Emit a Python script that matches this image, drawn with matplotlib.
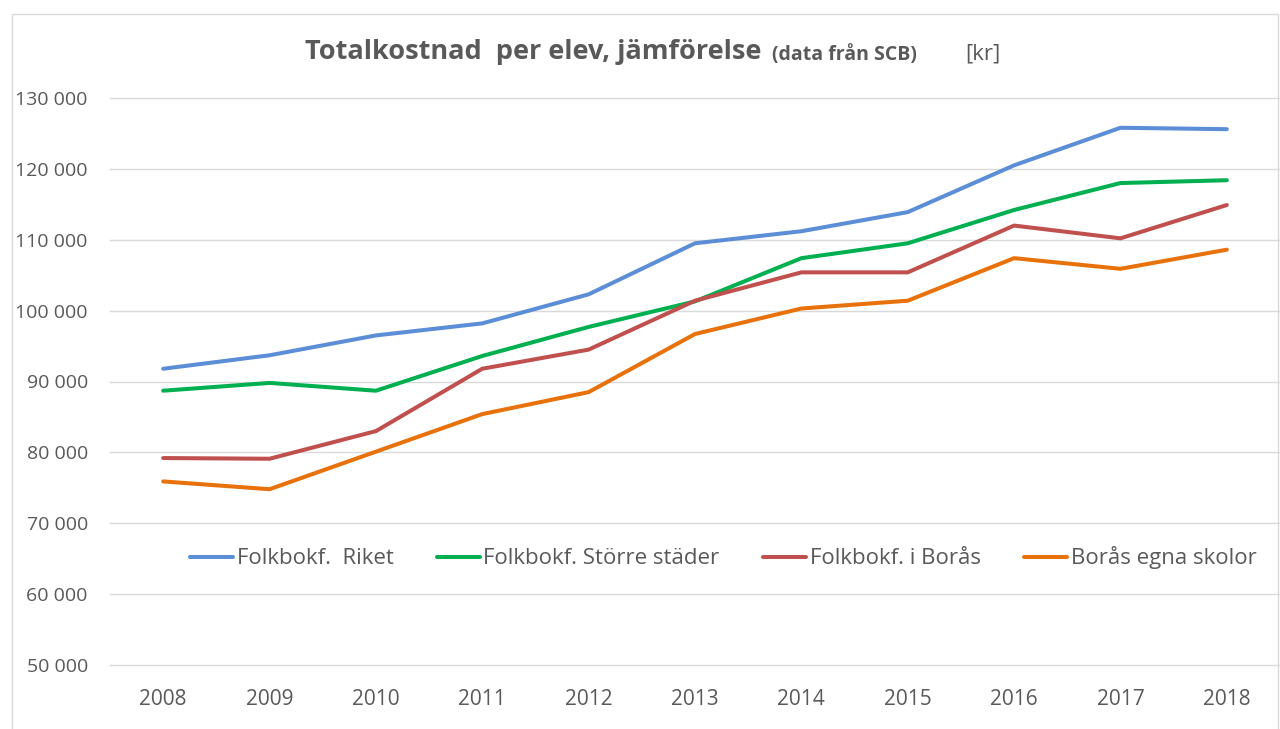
import matplotlib
matplotlib.use('Agg')
import matplotlib.pyplot as plt
from matplotlib.patches import Rectangle
from matplotlib.ticker import FuncFormatter

years = ['2008', '2009', '2010', '2011', '2012', '2013', '2014', '2015', '2016', '2017', '2018']

riket = [91800, 93700, 96500, 98200, 102300, 109500, 111200, 113900, 120500, 125800, 125600]
storre_stader = [88700, 89800, 88700, 93600, 97700, 101300, 107400, 109500, 114200, 118000, 118400]
i_boras = [79200, 79100, 83000, 91800, 94500, 101400, 105400, 105400, 112000, 110200, 114900]
boras_egna = [75900, 74800, 80100, 85400, 88500, 96700, 100300, 101400, 107400, 105900, 108600]

labels = ['Folkbokf.  Riket', 'Folkbokf. Större städer', 'Folkbokf. i Borås', 'Borås egna skolor']
colors = ['#5B8ED6', '#00B050', '#C0504D', '#E8710A']

plt.rcParams['font.family'] = ['Open Sans', 'DejaVu Sans']
grey = '#595959'

fig = plt.figure(figsize=(12.8, 7.29), dpi=100)
ax = fig.add_axes([110 / 1280, 1 - 665 / 729, 1170 / 1280, 567 / 729])

# chart border
fig.patches.append(Rectangle((12 / 1280, -0.01), 1266 / 1280, 1 - 14 / 729 + 0.01,
                             transform=fig.transFigure, fill=False,
                             edgecolor='#D9D9D9', linewidth=1))

x = range(len(years))
for series, lab, col in zip([riket, storre_stader, i_boras, boras_egna], labels, colors):
    ax.plot(x, series, color=col, linewidth=2.9, label=lab, solid_capstyle='round')

ax.set_xlim(-0.5, len(years) - 0.5)
ax.set_ylim(50000, 130000)
ax.set_yticks(range(50000, 130001, 10000))
ax.yaxis.set_major_formatter(FuncFormatter(lambda v, p: f'{int(v):,}'.replace(',', ' ')))
ax.set_xticks(list(x))
ax.set_xticklabels(years)
ax.grid(axis='y', color='#D9D9D9', linewidth=1)
for gl in ax.yaxis.get_gridlines():
    gl.set_clip_on(False)
ax.set_axisbelow(True)
for s in ax.spines.values():
    s.set_visible(False)
ax.tick_params(axis='both', length=0, colors=grey)
ax.tick_params(axis='y', pad=16, labelsize=14)
ax.tick_params(axis='x', pad=17, labelsize=15)

leg = ax.legend(ncol=4, loc='center', bbox_to_anchor=(0.524, 0.189), frameon=False,
                fontsize=16, handlelength=1.95, handletextpad=0.15, columnspacing=1.95,
                labelcolor=grey)

# title
fig.text(305 / 1280, 1 - 52 / 729, 'Totalkostnad  per elev, jämförelse', fontsize=19.5,
         fontweight='bold', color=grey, va='center', ha='left')
fig.text(772 / 1280, 1 - 55 / 729, '(data från SCB)', fontsize=14,
         fontweight='bold', color=grey, va='center', ha='left')
fig.text(965 / 1280, 1 - 54 / 729, '[kr]', fontsize=16, color=grey, va='center', ha='left')

fig.savefig('out.png', dpi=100, facecolor='white')
